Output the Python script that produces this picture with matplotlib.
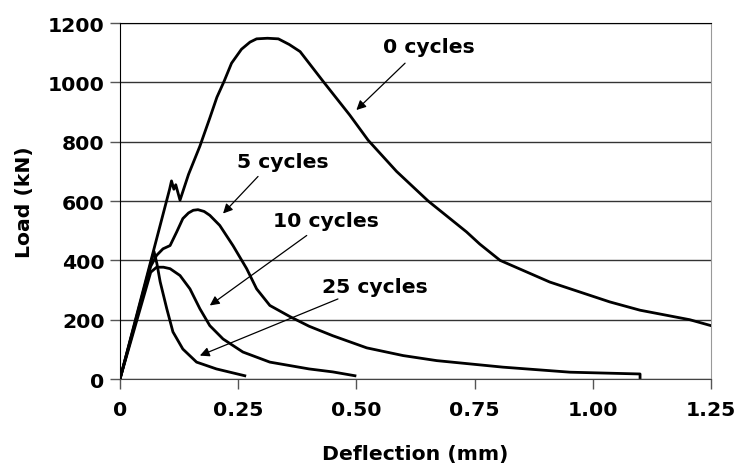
import matplotlib.pyplot as plt

# deflection (mm) / load (kN)
defl_0 = [0, 0.05, 0.105, 0.109, 0.114, 0.118, 0.127, 0.145, 0.169, 0.19, 0.205, 0.220, 0.236,
          0.257, 0.275, 0.289, 0.312, 0.335, 0.358, 0.381, 0.430, 0.486, 0.525, 0.585,
          0.652, 0.733, 0.761, 0.804, 0.909, 1.036, 1.10, 1.205, 1.25]
load_0 = [0, 305, 640, 668, 640, 655, 603, 690, 785, 880, 950, 1003, 1065,
          1112, 1136, 1147, 1149, 1147, 1128, 1104, 1003, 890, 805, 700,
          600, 496, 455, 400, 327, 260, 232, 200, 180]

defl_5 = [0, 0.065, 0.0775, 0.091, 0.106, 0.12, 0.133, 0.145, 0.155, 0.165, 0.178, 0.19,
          0.211, 0.239, 0.268, 0.289, 0.317, 0.36, 0.40, 0.45, 0.522, 0.599, 0.67, 0.81,
          0.952, 1.10, 1.10]
load_5 = [0, 380, 417, 439, 450, 496, 541, 560, 569, 571, 565, 552,
          518, 450, 372, 304, 248, 210, 178, 146, 105, 79, 62, 40,
          23, 17, 5]

defl_10 = [0, 0.065, 0.0775, 0.092, 0.106, 0.127, 0.148, 0.169, 0.19, 0.218, 0.26, 0.317,
           0.40, 0.45, 0.497]
load_10 = [0, 360, 377, 377, 372, 349, 304, 237, 180, 135, 91, 57,
           34, 24, 11]

defl_25 = [0, 0.072, 0.078, 0.085, 0.099, 0.112, 0.133, 0.162, 0.204, 0.264]
load_25 = [0, 430, 390, 328, 237, 159, 101, 57, 34, 11]

labels = ['0 cycles', '5 cycles', '10 cycles', '25 cycles']
label_pos = [(0.654, 1122), (0.344, 733), (0.436, 534), (0.540, 311)]
arrow_tail = [(0.603, 1065), (0.292, 683), (0.395, 484), (0.461, 270)]
arrow_head = [(0.500, 907), (0.218, 558), (0.190, 248), (0.169, 79)]

xticks = [0, 0.25, 0.50, 0.75, 1.00, 1.25]
xticklabels = ['0', '0.25', '0.50', '0.75', '1.00', '1.25']
yticks = [0, 200, 400, 600, 800, 1000, 1200]

plt.rcParams['font.family'] = ['DejaVu Sans']
plt.rcParams['font.weight'] = 'bold'
fs = 14.7

fig = plt.figure(figsize=(7.36, 4.64), dpi=100)
ax = fig.add_axes([0.163, 0.181, 0.803, 0.767])

for d, l in [(defl_0, load_0), (defl_5, load_5), (defl_10, load_10), (defl_25, load_25)]:
    ax.plot(d, l, color='black', lw=2.0, solid_joinstyle='round', zorder=3)

for txt, pos, tail, head in zip(labels, label_pos, arrow_tail, arrow_head):
    ax.text(pos[0], pos[1], txt, fontsize=fs, fontweight='bold', ha='center', va='center')
    ax.annotate('', xy=head, xytext=tail,
                arrowprops=dict(arrowstyle='-|>', lw=0.9, color='black', mutation_scale=14,
                                shrinkA=0, shrinkB=0))

ax.set_xlim(0, 1.25)
ax.set_ylim(0, 1200)
ax.set_xticks(xticks)
ax.set_xticklabels(xticklabels)
ax.set_yticks(yticks)
ax.tick_params(axis='both', labelsize=fs, direction='out', length=7, width=1, color='#555555', pad=4)
ax.tick_params(axis='x', pad=8)
ax.grid(axis='y', color='#333333', lw=1)
ax.set_axisbelow(True)

ax.spines['left'].set_color('black')
ax.spines['top'].set_color('black')
ax.spines['bottom'].set_color('#444444')
ax.spines['right'].set_color('#999999')

ax.set_xlabel('Deflection (mm)', fontsize=fs, fontweight='bold', labelpad=18)
ax.set_ylabel('Load (kN)', fontsize=fs, fontweight='bold', labelpad=10)

fig.savefig('out.png', dpi=100)
